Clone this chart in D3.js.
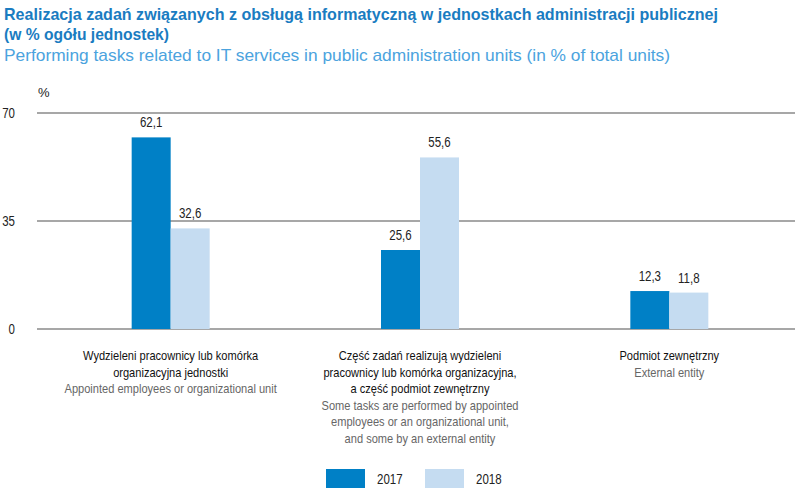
<!DOCTYPE html>
<html>
<head>
<meta charset="utf-8">
<script src="https://cdnjs.cloudflare.com/ajax/libs/d3/7.8.5/d3.min.js"></script>
<style>
  body { margin: 0; background: #fff; }
  svg { font-family: "Liberation Sans", Arial, sans-serif; }
</style>
</head>
<body>
<script>
var width = 800;
var height = 496;

var categories = ['a', 'b', 'c'];
var labelsPl = [
    ['Wydzieleni pracownicy lub komórka', 'organizacyjna jednostki'],
    ['Część zadań realizują wydzieleni', 'pracownicy lub komórka organizacyjna,', 'a część podmiot zewnętrzny'],
    ['Podmiot zewnętrzny']
];
var labelsEn = [
    ['Appointed employees or organizational unit'],
    ['Some tasks are performed by appointed', 'employees or an organizational unit,', 'and some by an external entity'],
    ['External entity']
];
var years = ['2017', '2018'];
var values2017 = [62.1, 25.6, 12.3];
var values2018 = [32.6, 55.6, 11.8];
var yTicks = [0, 35, 70];

var colors = { '2017': '#0080c6', '2018': '#c5dcf1' };
var squeeze = 0.82;

var svg = d3.select('body').append('svg')
    .attr('width', width)
    .attr('height', height);

// narrow the text the way the condensed original font looks
function condense(sel, k) {
    sel.each(function () {
        var len = this.getComputedTextLength();
        d3.select(this)
            .attr('textLength', len * k)
            .attr('lengthAdjust', 'spacingAndGlyphs');
    });
}
function fitTo(sel, w) {
    sel.attr('textLength', w).attr('lengthAdjust', 'spacingAndGlyphs');
}

// titles
fitTo(svg.append('text')
    .attr('x', 4).attr('y', 20)
    .attr('font-size', 17).attr('font-weight', 'bold')
    .attr('fill', '#1a7cc1')
    .text('Realizacja zadań związanych z obsługą informatyczną w  jednostkach administracji publicznej'), 714);
fitTo(svg.append('text')
    .attr('x', 4).attr('y', 40)
    .attr('font-size', 17).attr('font-weight', 'bold')
    .attr('fill', '#1a7cc1')
    .text('(w % ogółu jednostek)'), 165);
fitTo(svg.append('text')
    .attr('x', 4).attr('y', 61)
    .attr('font-size', 17)
    .attr('fill', '#4ba3de')
    .text('Performing tasks related to IT services in public administration units (in % of total units)'), 666);

var x = d3.scaleBand()
    .domain(categories)
    .range([46, 794]);

var xInner = d3.scaleBand()
    .domain(years)
    .range([0, 78]);

var y = d3.scaleLinear()
    .domain([0, 70])
    .range([329, 113]);

// gridlines
svg.append('g').selectAll('line')
    .data(yTicks)
    .enter().append('line')
    .attr('x1', 37).attr('x2', 795)
    .attr('y1', (d) => y(d)).attr('y2', (d) => y(d))
    .attr('stroke', '#8a8a8a')
    .attr('stroke-width', 1.5);

condense(svg.append('g').selectAll('text')
    .data(yTicks)
    .enter().append('text')
    .attr('x', 15)
    .attr('y', (d) => y(d) + 5)
    .attr('text-anchor', 'end')
    .attr('font-size', 14)
    .attr('fill', '#222')
    .text((d) => d), squeeze);

svg.append('text')
    .attr('x', 38).attr('y', 97)
    .attr('font-size', 13)
    .attr('fill', '#222')
    .text('%');

// bars
var data = [];
categories.forEach((c, i) => {
    data.push({ cat: c, year: '2017', value: values2017[i] });
    data.push({ cat: c, year: '2018', value: values2018[i] });
});

var fmt = (v) => d3.format('.1f')(v).replace('.', ',');

var bars = svg.append('g');
bars.selectAll('rect')
    .data(data)
    .enter().append('rect')
    .attr('x', (d) => x(d.cat) + x.bandwidth() / 2 - 39 + xInner(d.year))
    .attr('width', xInner.bandwidth())
    .attr('y', (d) => y(d.value))
    .attr('height', (d) => y(0) - y(d.value))
    .attr('fill', (d) => colors[d.year]);

condense(bars.selectAll('text')
    .data(data)
    .enter().append('text')
    .attr('x', (d) => x(d.cat) + x.bandwidth() / 2 - 39 + xInner(d.year) + xInner.bandwidth() / 2)
    .attr('y', (d) => y(d.value) - 10)
    .attr('text-anchor', 'middle')
    .attr('font-size', 14)
    .attr('fill', '#222')
    .text((d) => fmt(d.value)), squeeze);

// category labels
var catG = svg.append('g');
categories.forEach((c, i) => {
    var cx = x(c) + x.bandwidth() / 2;
    var lines = labelsPl[i].map((s) => ({ s: s, fill: '#111' }))
        .concat(labelsEn[i].map((s) => ({ s: s, fill: '#666' })));
    lines.forEach((l, j) => {
        condense(catG.append('text')
            .attr('x', cx)
            .attr('y', 360 + j * 16.5)
            .attr('text-anchor', 'middle')
            .attr('font-size', 13.5)
            .attr('fill', l.fill)
            .text(l.s), squeeze);
    });
});

// legend
var legend = svg.append('g');
var legendX = [326, 425];
years.forEach((yr, i) => {
    legend.append('rect')
        .attr('x', legendX[i]).attr('y', 469)
        .attr('width', 39).attr('height', 19)
        .attr('fill', colors[yr]);
    condense(legend.append('text')
        .attr('x', legendX[i] + 51).attr('y', 484)
        .attr('font-size', 14)
        .attr('fill', '#222')
        .text(yr), squeeze);
});
</script>
</body>
</html>
